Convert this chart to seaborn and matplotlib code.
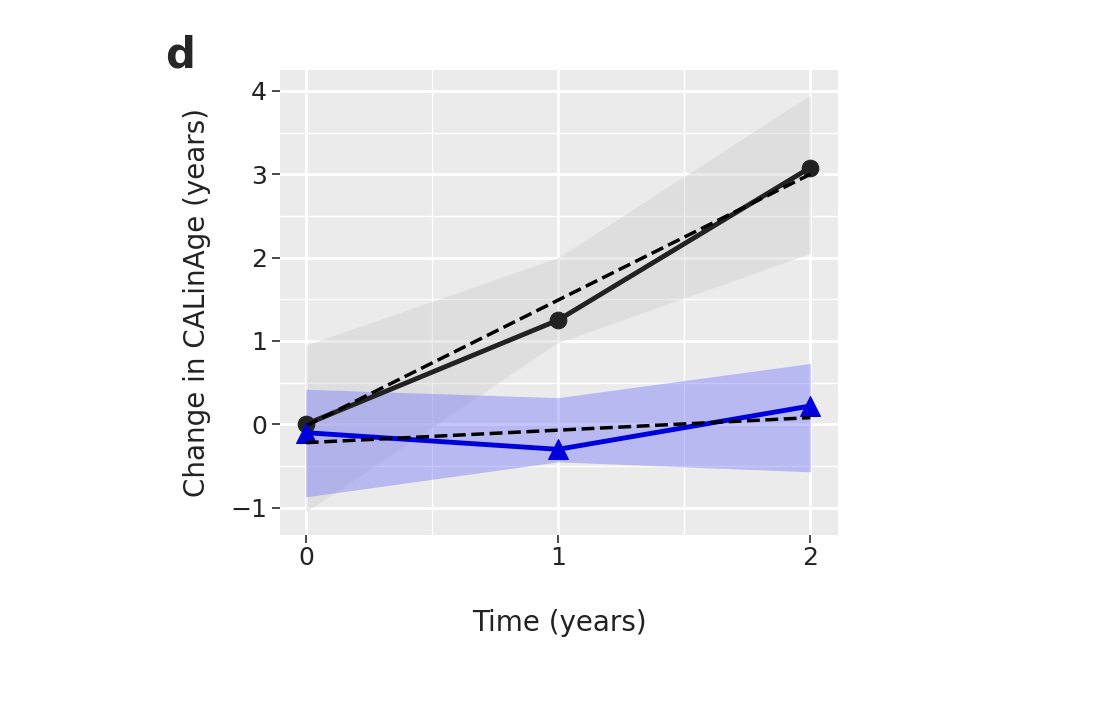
import matplotlib
matplotlib.use("Agg")
import matplotlib.pyplot as plt
import seaborn as sns
import pandas as pd

sns.set_theme(style="darkgrid")
plt.rcParams['font.family'] = ['DejaVu Sans']

time = [0, 1, 2]
black_obs = [0.0, 1.25, 3.08]
black_fit = [-0.02, 1.49, 3.0]
black_lo = [-1.05, 0.98, 2.05]
black_hi = [0.95, 2.0, 3.95]
blue_obs = [-0.1, -0.3, 0.22]
blue_fit = [-0.22, -0.07, 0.08]
blue_lo = [-0.87, -0.45, -0.57]
blue_hi = [0.42, 0.32, 0.73]

fig = plt.figure(figsize=(11.16, 7.07), dpi=100)
ax = fig.add_axes([0.251, 0.243, 0.5, 0.658])
ax.set_facecolor("#ebebeb")

ax.fill_between(time, black_lo, black_hi, color="#c8c8c8", alpha=0.35, lw=0)
ax.fill_between(time, blue_lo, blue_hi, color="#7070ff", alpha=0.4, lw=0)

df = pd.DataFrame({"t": time, "b": black_obs, "bf": black_fit, "u": blue_obs, "uf": blue_fit})
sns.lineplot(data=df, x="t", y="b", ax=ax, color="#222222", lw=3.5, marker="o",
             markersize=12, markeredgecolor="#222222")
sns.lineplot(data=df, x="t", y="bf", ax=ax, color="black", lw=2.5, linestyle="--")
sns.lineplot(data=df, x="t", y="u", ax=ax, color="#0000dd", lw=3.5, marker="^",
             markersize=14, markeredgecolor="#0000dd")
sns.lineplot(data=df, x="t", y="uf", ax=ax, color="black", lw=2.5, linestyle="--")

ax.set_xlim(-0.102, 2.11)
ax.set_ylim(-1.33, 4.25)
ax.set_xticks([0, 1, 2])
ax.set_yticks([-1, 0, 1, 2, 3, 4])
ax.set_yticklabels(["\u22121", "0", "1", "2", "3", "4"])
ax.set_xticks([0.5, 1.5], minor=True)
ax.set_yticks([-0.5, 0.5, 1.5, 2.5, 3.5], minor=True)
ax.grid(which="major", color="white", lw=2)
ax.grid(which="minor", color="white", lw=1)
ax.tick_params(axis="both", which="major", labelsize=18, length=6, color="#333333",
               left=True, bottom=True, labelcolor="#222222")
ax.tick_params(axis="x", which="major", pad=2)
ax.tick_params(which="minor", length=0)
for s in ax.spines.values():
    s.set_visible(False)
ax.set_xlabel("Time (years)", fontsize=20, color="#222222", labelpad=28)
ax.set_ylabel("Change in CALinAge (years)", fontsize=20, color="#222222", labelpad=14)
fig.text(0.148, 0.905, "d", fontsize=30, fontweight="bold")
fig.savefig("out.png", dpi=100)
